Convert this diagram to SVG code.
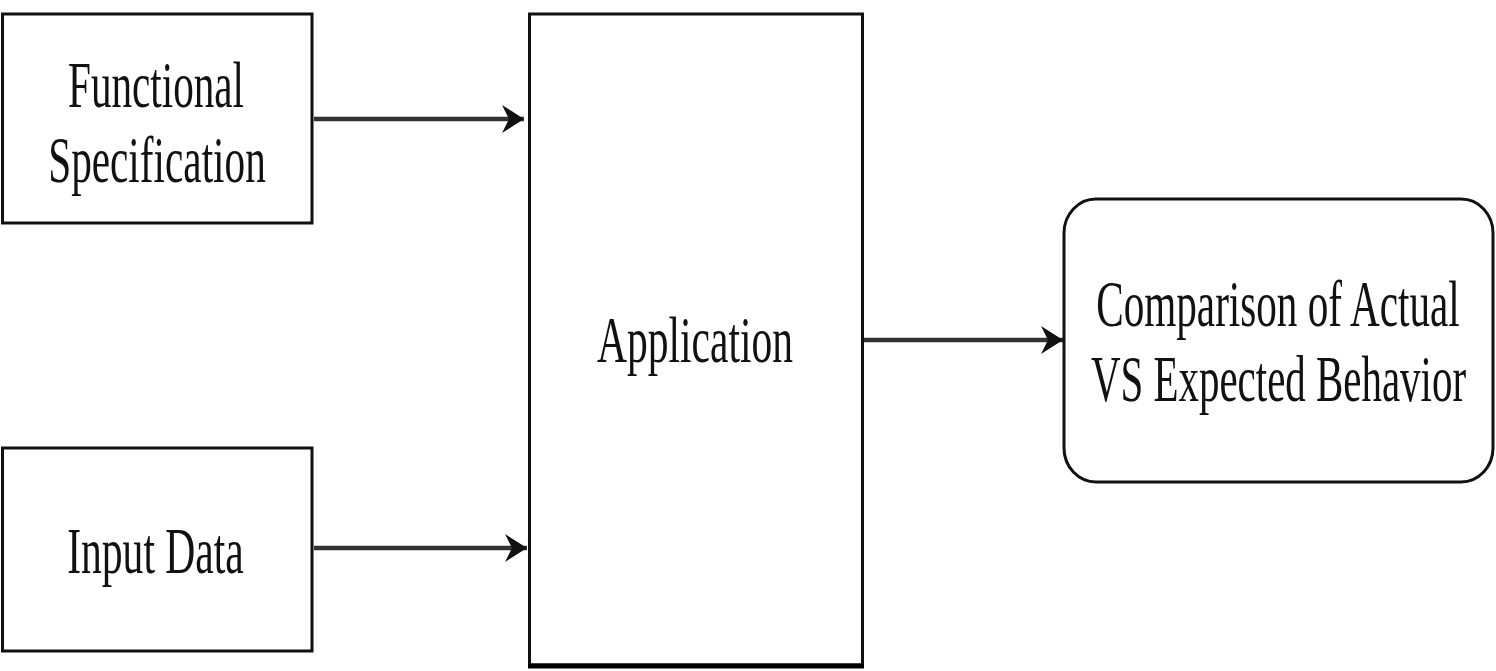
<svg xmlns="http://www.w3.org/2000/svg" width="1496" height="671" viewBox="0 0 1496 671">
<style>
.box{fill:#fff;stroke:#111;stroke-width:3}
.lbl{font-family:"Liberation Serif","Times New Roman",serif;font-size:66px;fill:#111;text-anchor:middle}
.conn{fill:none;stroke:#333;stroke-width:4.5}
</style>
<defs>
<marker id="arr" markerUnits="userSpaceOnUse" markerWidth="24" markerHeight="32" refX="22" refY="16" orient="auto">
<path d="M0,2 L22,16 L0,30 L7,16 Z" fill="#111"/>
</marker>
</defs>
<rect width="1496" height="671" fill="#fff"/>
<g id="connectors">
<line class="conn" x1="314" y1="119" x2="524" y2="119" marker-end="url(#arr)"/>
<line class="conn" x1="314" y1="548" x2="527" y2="548" marker-end="url(#arr)"/>
<line class="conn" x1="864" y1="340" x2="1063" y2="340" marker-end="url(#arr)"/>
</g>
<g id="functional-specification">
<rect class="box" x="2.5" y="14" width="309.5" height="209"/>
<text class="lbl" transform="matrix(0.64,0,0,1,156,107)" textLength="275" lengthAdjust="spacingAndGlyphs">Functional</text>
<text class="lbl" transform="matrix(0.64,0,0,1,157,182)" textLength="340" lengthAdjust="spacingAndGlyphs">Specification</text>
</g>
<g id="input-data">
<rect class="box" x="2.5" y="448" width="309.5" height="203"/>
<text class="lbl" transform="matrix(0.64,0,0,1,155.5,573)" textLength="276" lengthAdjust="spacingAndGlyphs">Input Data</text>
</g>
<g id="application">
<rect class="box" x="529.5" y="14" width="333" height="651"/>
<line x1="528" y1="666" x2="864" y2="666" stroke="#000" stroke-width="5"/>
<text class="lbl" transform="matrix(0.64,0,0,1,695,362)" textLength="306" lengthAdjust="spacingAndGlyphs">Application</text>
</g>
<g id="comparison">
<rect class="box" x="1064" y="199" width="429" height="283" rx="32" ry="34"/>
<text class="lbl" transform="matrix(0.64,0,0,1,1278,326)" textLength="568" lengthAdjust="spacingAndGlyphs">Comparison of Actual</text>
<text class="lbl" transform="matrix(0.64,0,0,1,1278.5,401)" textLength="586" lengthAdjust="spacingAndGlyphs">VS Expected Behavior</text>
</g>
</svg>
